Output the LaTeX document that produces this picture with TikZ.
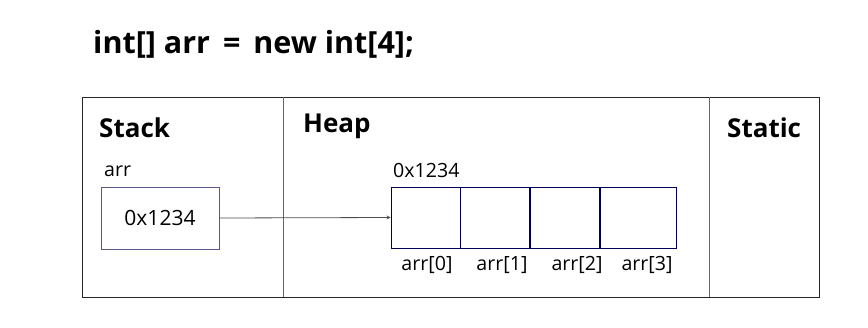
\documentclass[tikz,border=0pt]{standalone}
\usepackage{fontspec}
\setmainfont{Open Sans}
\usetikzlibrary{positioning}

\tikzset{
  area/.style={draw=black!85, line width=0.8pt},
  title/.style={font=\bfseries\fontsize{26}{29}\selectfont, anchor=west, inner sep=0pt},
  cell/.style={draw=blue!35!black, line width=0.8pt, minimum width=69pt, minimum height=61pt, inner sep=0pt},
  tag/.style={font=\fontsize{19.6}{22}\selectfont, inner sep=0pt}
}

\begin{document}
\begin{tikzpicture}[x=1pt,y=-1pt]
        \useasboundingbox (0,0) rectangle (868,327);

        % code line on top
        \node[anchor=west, inner sep=0pt, font=\bfseries\fontsize{30.5}{34}\selectfont] (code) at (93,44) {int[] arr \,=\, new int[4];};

        % memory areas
        \draw [area] (82,97) rectangle (819,297);
        \draw [area, black!60] (283,97) -- (283,297);
        \draw [area, black!60] (709,97) -- (709,297);

        \node[title] (stack) at (99,128) {Stack};
        \node[title] (heap) at (303,126) {Heap};
        \node[title] (static) at (727,128) {Static};

        % variable on the stack
        \node[draw=blue!30!black!65, line width=0.8pt, minimum width=118pt, minimum height=62pt, inner sep=0pt,
              font=\fontsize{21}{24}\selectfont] (ref) at (160,218) {0x1234};
        \node[tag, anchor=west] (refname) at (104,171) {arr};

        % array object on the heap
        \node[cell] (c0) at (425.5,217.5) {};
        \node[cell, right=0pt of c0] (c1) {};
        \node[cell, right=0pt of c1] (c2) {};
        \node[cell, right=0pt of c2, minimum width=76pt] (c3) {};
        \node[tag, anchor=west] (addr) at (393,170) {0x1234};

        \node[tag] (i0) at (427,265) {arr[0]};
        \node[tag] (i1) at (502,265) {arr[1]};
        \node[tag] (i2) at (577,265) {arr[2]};
        \node[tag] (i3) at (647,265) {arr[3]};

        \draw [black!70, line width=0.8pt, -stealth] (ref.east) -- (c0.west);
\end{tikzpicture}
\end{document}
